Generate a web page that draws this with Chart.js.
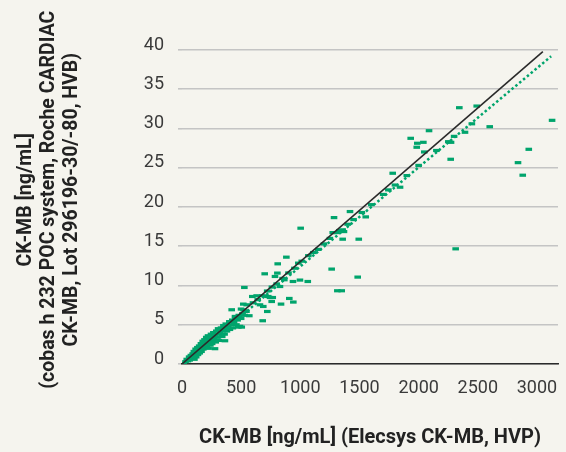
<!DOCTYPE html>
<html>
<head>
<meta charset="utf-8">
<script src="https://cdn.jsdelivr.net/npm/chart.js@4/dist/chart.umd.min.js"></script>
<style>
html,body{margin:0;padding:0;background:#f5f4ee;}
#wrap{width:566px;height:452px;position:relative;}
</style>
</head>
<body>
<div id="wrap"><canvas id="c" width="566" height="452"></canvas></div>
<script>
// Reference method (x): Elecsys CK-MB; test method (y): cobas h 232
const xValues = [
  15,30,40,50,60,65,75,80,90,95,100,105,110,115,120,125,130,135,140,145,150,155,160,165,170,175,180,185,190,195,
  200,205,210,215,220,225,230,235,240,245,250,255,260,265,270,280,285,290,300,305,310,320,330,340,345,350,360,365,370,380,
  390,400,405,415,425,430,440,450,460,470,480,490,500,510,520,530,545,
  363,279,476,505,499,420,448,569,682,721,659,687,518,547,837,941,758,907,744,767,594,631,729,1313,1350,527,828,938,997,1063,
  865,1485,786,699,806,1265,809,882,2313,1358,1494,1274,1302,1358,1369,1003,1285,1420,1553,1744,1843,1781,2880,2840,2271,2048,2931,1984,1989,2040,
  2251,2274,1933,2392,2088,2601,3128,2344,2491,
  600,640,680,720,760,800,850,900,950,983,1012,1068,1110,1152,1200,1250,1330,1400,1450,1520,1600,1700,1800,1900,2000,2150,2300,2450
];
const yValues = [
  0.1,0.3,0.6,0.4,0.9,0.5,1.1,0.7,1.3,0.9,1.6,0.6,1.2,1.9,0.9,1.5,2.1,1.2,1.8,2.3,1.4,2.0,2.6,1.6,2.3,2.9,1.9,2.5,3.1,2.1,
  2.8,3.4,2.3,3.0,3.6,2.0,2.7,3.3,2.4,3.8,3.0,2.6,3.5,4.0,3.1,3.7,2.8,4.2,3.4,4.5,3.0,3.9,4.6,3.5,4.2,4.9,3.8,4.5,5.1,4.2,
  4.8,5.4,4.4,5.0,5.6,4.6,5.3,5.9,5.0,5.6,6.2,4.8,5.8,6.4,6.9,6.2,6.7,
  2.96,1.95,4.7,4.7,7.0,6.91,6.06,6.15,5.51,6.69,7.54,7.33,7.63,7.54,7.63,7.89,7.96,8.35,8.47,8.47,8.6,8.69,8.6,9.33,9.33,9.75,9.87,10.51,10.69,10.51,
  10.73,11.07,11.15,11.49,11.58,12.09,12.76,13.61,14.67,15.9,15.9,16.74,16.74,17.09,16.87,17.3,18.65,19.42,18.74,22.18,22.52,24.3,24.05,25.65,26.08,27.01,27.35,27.61,28.12,28.24,
  28.32,28.24,28.75,29.52,29.72,30.23,31.04,32.65,32.86,
  7.8,8.2,8.7,9.3,9.8,10.2,10.9,11.6,12.2,12.85,13.1,13.8,14.2,14.6,15.3,16.0,17.0,17.8,18.4,19.3,20.3,21.6,22.8,24.0,25.3,27.2,29.0,30.6
];
// Lines: reference line and regression line (end points)
const refLineX = [0, 3050];
const refLineY = [0, 39.8];
const regLineX = [0, 3120];
const regLineY = [-0.2, 39.2];
const xTicks = [0, 500, 1000, 1500, 2000, 2500, 3000];
const yTicks = [0, 5, 10, 15, 20, 25, 30, 35, 40];
const xTitle = 'CK-MB [ng/mL] (Elecsys CK-MB, HVP)';
const yTitle = ['\u00a0\u00a0\u00a0CK-MB [ng/mL]', '\u00a0\u00a0\u00a0(cobas h 232 POC system, Roche CARDIAC', '\u00a0\u00a0\u00a0CK-MB, Lot 296196-30/-80, HVB)'];

const GREEN = '#00a46c';
const pts = xValues.map((x, i) => ({x: x, y: yValues[i]}));
const toPts = (xs, ys) => xs.map((x, i) => ({x: x, y: ys[i]}));

const bg = {
  id: 'bg',
  beforeDraw(chart) {
    const ctx = chart.ctx;
    ctx.save();
    ctx.fillStyle = '#f5f4ee';
    ctx.fillRect(0, 0, chart.width, chart.height);
    ctx.restore();
  }
};

new Chart(document.getElementById('c'), {
  type: 'scatter',
  data: {
    datasets: [
      {
        type: 'line', data: toPts(refLineX, refLineY), borderColor: '#2a2a2a', borderWidth: 1.6,
        pointRadius: 0, fill: false, order: 0
      },
      {
        type: 'line', data: toPts(regLineX, regLineY), borderColor: GREEN, borderWidth: 2.5,
        borderDash: [2.5, 2.5], pointRadius: 0, fill: false, order: 0
      },
      {
        data: pts, pointStyle: 'line', pointRadius: 3.3, pointBorderWidth: 3.2,
        borderColor: GREEN, backgroundColor: GREEN, order: 1
      }
    ]
  },
  options: {
    responsive: false,
    animation: false,
    events: [],
    layout: {padding: {top: 50, right: 8, left: 0, bottom: 0}},
    plugins: {legend: {display: false}, tooltip: {enabled: false}},
    scales: {
      x: {
        type: 'linear', min: 0, max: 3178,
        afterBuildTicks(s) { s.ticks = xTicks.map(v => ({value: v})); },
        afterFit(s) { s.height = 88; s.paddingLeft = 0; s.paddingRight = 0; },
        grid: {display: false, drawTicks: false},
        border: {display: true, color: '#2a2a2a', width: 1.6},
        ticks: {color: '#3a3a3a', font: {family: 'Roboto', size: 18}, padding: 14, maxRotation: 0,
                callback: v => String(v)},
        title: {display: true, text: xTitle, color: '#222', font: {family: 'Roboto', size: 20, weight: 'bold'},
                padding: {top: 0, bottom: 2}}
      },
      y: {
        type: 'linear', min: 0, max: 40,
        afterBuildTicks(s) { s.ticks = yTicks.map(v => ({value: v})); },
        afterFit(s) { s.width = 182; s.paddingTop = 0; s.paddingBottom = 0; },
        grid: {color: '#c4c4c4', lineWidth: 1.6, tickLength: 4, drawTicks: true, tickColor: '#c4c4c4'},
        border: {display: false},
        ticks: {color: '#3a3a3a', font: {family: 'Roboto', size: 18}, padding: 14, labelOffset: -5,
                callback: v => String(v)},
        title: {display: true, text: yTitle, color: '#222', font: {family: 'Roboto', size: 19.5, weight: 'bold', lineHeight: 1.2},
                padding: {top: 14, bottom: 0}}
      }
    }
  },
  plugins: [bg]
});
</script>
</body>
</html>
